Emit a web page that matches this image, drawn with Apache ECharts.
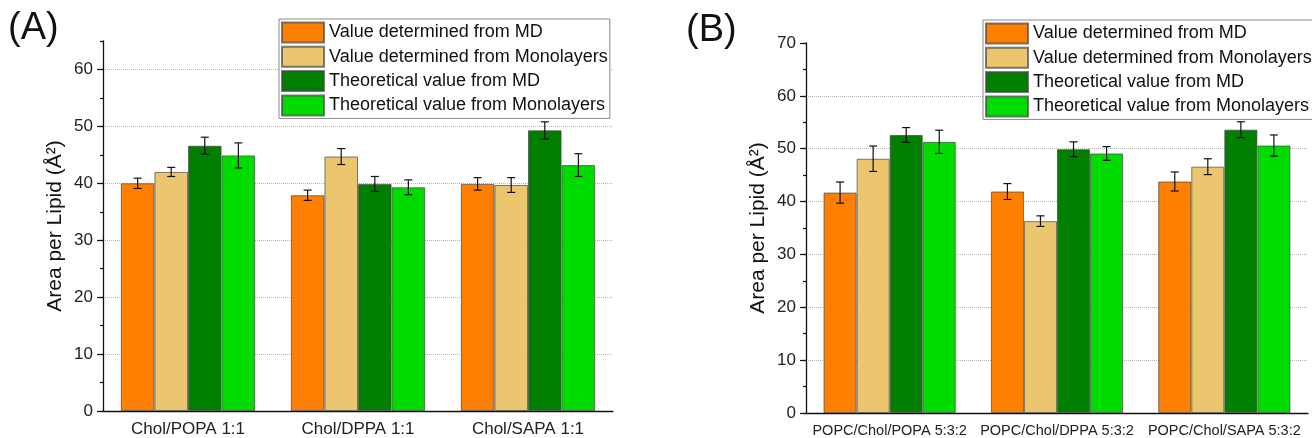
<!DOCTYPE html>
<html>
<head>
<meta charset="utf-8">
<script src="https://cdn.jsdelivr.net/npm/echarts@6/dist/echarts.min.js"></script>
<style>
html,body{margin:0;padding:0;background:#fff;}
#chart{width:1312px;height:438px;}
</style>
</head>
<body>
<div id="chart"></div>
<script>
// ---- data ----
const categoriesA = ['Chol/POPA 1:1', 'Chol/DPPA 1:1', 'Chol/SAPA 1:1'];
const categoriesB = ['POPC/Chol/POPA 5:3:2', 'POPC/Chol/DPPA 5:3:2', 'POPC/Chol/SAPA 5:3:2'];
const seriesNames = ['Value determined from MD', 'Value determined from Monolayers', 'Theoretical value from MD', 'Theoretical value from Monolayers'];
const seriesColors = ['#ff8000', '#ebc66e', '#007f00', '#00dc00'];

// Panel A
const mdValueA      = [40.0, 37.9, 39.9];
const monoValueA    = [42.0, 44.7, 39.7];
const mdTheoryA     = [46.6, 39.9, 49.3];
const monoTheoryA   = [44.9, 39.3, 43.2];
const mdValueErrA   = [0.9, 0.9, 1.1];
const monoValueErrA = [0.8, 1.4, 1.3];
const mdTheoryErrA  = [1.5, 1.3, 1.5];
const monoTheoryErrA= [2.2, 1.3, 2.0];

// Panel B
const mdValueB      = [41.7, 41.9, 43.8];
const monoValueB    = [48.1, 36.3, 46.6];
const mdTheoryB     = [52.6, 49.9, 53.6];
const monoTheoryB   = [51.3, 49.1, 50.6];
const mdValueErrB   = [2.0, 1.5, 1.8];
const monoValueErrB = [2.4, 1.0, 1.5];
const mdTheoryErrB  = [1.4, 1.4, 1.5];
const monoTheoryErrB= [2.2, 1.3, 2.0];

// tick labels
const yTicksA = [0, 10, 20, 30, 40, 50, 60];
const yTicksB = [0, 10, 20, 30, 40, 50, 60, 70];

const yName = 'Area per Lipid (Å²)';
const panelLabels = ['(A)', '(B)'];

// ---- build ----
const FONT = '"Liberation Sans", Arial, sans-serif';
const GAP = 0.21;

const valsA = [mdValueA, monoValueA, mdTheoryA, monoTheoryA];
const errsA = [mdValueErrA, monoValueErrA, mdTheoryErrA, monoTheoryErrA];
const valsB = [mdValueB, monoValueB, mdTheoryB, monoTheoryB];
const errsB = [mdValueErrB, monoValueErrB, mdTheoryErrB, monoTheoryErrB];

function errData(vals, errs) {
  const out = [];
  vals.forEach((arr, s) => arr.forEach((v, c) => out.push([c, s, v, errs[s][c]])));
  return out;
}

function renderErr(params, api) {
  const cat = api.value(0), s = api.value(1), v = api.value(2), e = api.value(3);
  const band = api.size([1, 0])[0];
  const gw = band * (1 - GAP);
  const bw = gw / 4;
  const cx = api.coord([cat, v])[0] - gw / 2 + bw * (s + 0.5);
  const yt = api.coord([cat, v + e])[1];
  const yb = api.coord([cat, v - e])[1];
  const h = 4;
  const st = { stroke: '#111', lineWidth: 1.2 };
  return {
    type: 'group',
    children: [
      { type: 'line', shape: { x1: cx, y1: yt, x2: cx, y2: yb }, style: st },
      { type: 'line', shape: { x1: cx - h, y1: yt, x2: cx + h, y2: yt }, style: st },
      { type: 'line', shape: { x1: cx - h, y1: yb, x2: cx + h, y2: yb }, style: st }
    ]
  };
}

const axisTextStyle = { color: '#222', fontFamily: FONT };

function xAxes(cats, gridIndex, fontSize) {
  return [
    {
      type: 'category', gridIndex, data: cats, position: 'bottom',
      axisLine: { lineStyle: { color: '#111', width: 1.3 } },
      axisTick: { alignWithLabel: true, length: 6, lineStyle: { color: '#111', width: 1.2 } },
      axisLabel: Object.assign({ fontSize, margin: 10, interval: 0 }, axisTextStyle),
      splitLine: { show: false }
    },
    {
      type: 'category', gridIndex, data: cats, position: 'bottom',
      axisLine: { show: false },
      axisTick: { length: 3, lineStyle: { color: '#111', width: 1.2 } },
      axisLabel: { show: false },
      splitLine: { show: false }
    }
  ];
}

function yAxes(gridIndex, max, ticks, hideMaxLine) {
  return [
    {
      type: 'value', gridIndex, min: 0, max, interval: 10, position: 'left',
      name: yName, nameLocation: 'middle', nameGap: 37,
      nameTextStyle: { fontSize: 21, color: '#111', fontFamily: FONT },
      axisLine: { show: true, lineStyle: { color: '#111', width: 1.3 } },
      axisTick: { show: true, length: 6, customValues: ticks, lineStyle: { color: '#111', width: 1.2 } },
      axisLabel: Object.assign({ fontSize: 17, margin: 10, customValues: ticks, showMaxLabel: true }, axisTextStyle),
      splitLine: { show: true, showMaxLine: !hideMaxLine, lineStyle: { color: '#b5b5b5', type: 'dotted', width: 1 } }
    },
    {
      type: 'value', gridIndex, min: 0, max, interval: 5, position: 'left', offset: 0,
      axisLine: { show: false },
      axisTick: { show: true, length: 3, lineStyle: { color: '#111', width: 1.2 } },
      axisLabel: { show: false },
      splitLine: { show: false }
    }
  ];
}

const series = [];
valsA.forEach((arr, s) => series.push({
  type: 'bar', name: seriesNames[s], xAxisIndex: 0, yAxisIndex: 0, data: arr,
  barGap: '0%', barCategoryGap: (GAP * 100) + '%',
  itemStyle: { color: seriesColors[s], borderColor: 'rgba(70,70,70,0.7)', borderWidth: 1 }
}));
valsB.forEach((arr, s) => series.push({
  type: 'bar', name: seriesNames[s], xAxisIndex: 2, yAxisIndex: 2, data: arr,
  barGap: '0%', barCategoryGap: (GAP * 100) + '%',
  itemStyle: { color: seriesColors[s], borderColor: 'rgba(70,70,70,0.7)', borderWidth: 1 }
}));
series.push({ type: 'custom', name: 'errA', xAxisIndex: 0, yAxisIndex: 0, renderItem: renderErr, data: errData(valsA, errsA), z: 5 });
series.push({ type: 'custom', name: 'errB', xAxisIndex: 2, yAxisIndex: 2, renderItem: renderErr, data: errData(valsB, errsB), z: 5 });

const legendBase = {
  data: seriesNames, orient: 'vertical', icon: 'rect',
  itemWidth: 42, itemHeight: 20, itemGap: 2.3,
  padding: [2.5, 2, 2, 2],
  backgroundColor: '#fff', borderColor: '#888', borderWidth: 1,
  textStyle: { fontSize: 18, color: '#111', fontFamily: FONT },
  selectedMode: false, z: 10
};

const option = {
  animation: false,
  backgroundColor: '#fff',
  title: [
    { text: panelLabels[0], left: 8, top: 10, padding: 0, textStyle: { fontSize: 38, fontWeight: 'normal', color: '#111', fontFamily: FONT } },
    { text: panelLabels[1], left: 686, top: 12, padding: 0, textStyle: { fontSize: 38, fontWeight: 'normal', color: '#111', fontFamily: FONT } }
  ],
  legend: [
    Object.assign({ left: 279, top: 19 }, legendBase),
    Object.assign({ left: 983, top: 20 }, legendBase)
  ],
  grid: [
    { left: 103, top: 41, width: 510, height: 370 },
    { left: 806, top: 43, width: 502, height: 370 }
  ],
  xAxis: xAxes(categoriesA, 0, 17).concat(xAxes(categoriesB, 1, 14.5)),
  yAxis: yAxes(0, 65, yTicksA, false).concat(yAxes(1, 70, yTicksB, true)),
  series
};

const chart = echarts.init(document.getElementById('chart'), null, { renderer: 'canvas' });
chart.setOption(option);
</script>
</body>
</html>
